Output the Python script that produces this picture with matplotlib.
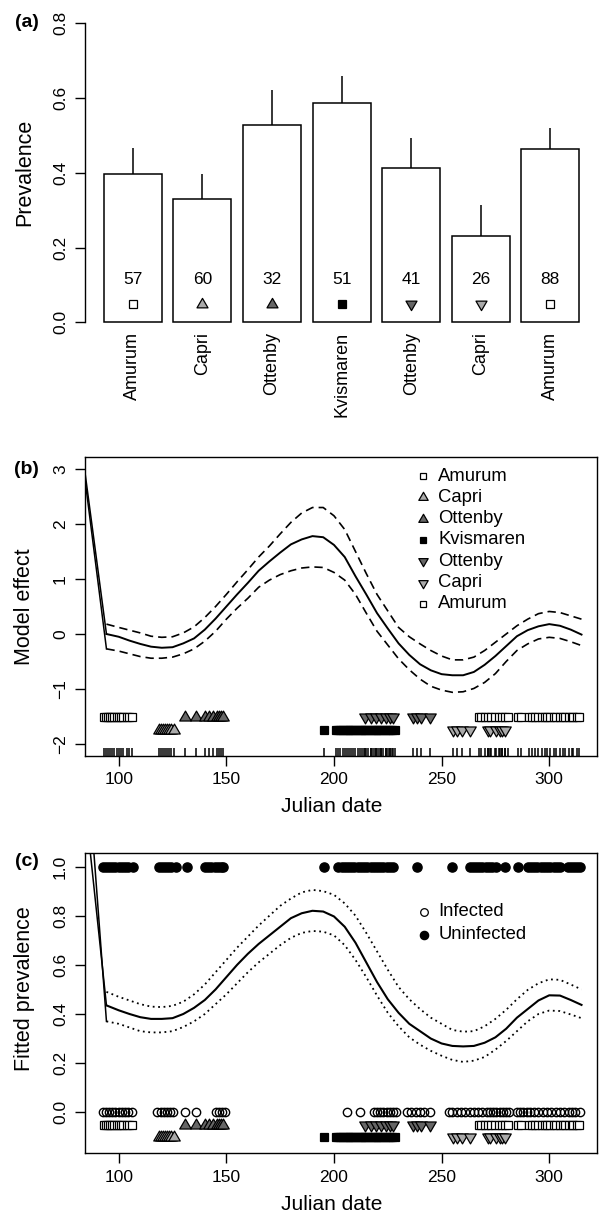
import numpy as np
import matplotlib.pyplot as plt
from matplotlib.path import Path

plt.rcParams['font.family'] = ['Liberation Sans', 'DejaVu Sans']
plt.rcParams['axes.linewidth'] = 1.0

# ---- (a) prevalence per site / season
sites = ['Amurum', 'Capri', 'Ottenby', 'Kvismaren', 'Ottenby', 'Capri', 'Amurum']
prevalence = [0.396, 0.331, 0.529, 0.588, 0.414, 0.230, 0.465]
prev_upper = [0.466, 0.397, 0.622, 0.658, 0.493, 0.313, 0.521]
sample_n = [57, 60, 32, 51, 41, 26, 88]
site_shape = ['square', 'up', 'up', 'square', 'down', 'down', 'square']
site_fill = ['white', '#aaaaaa', '#666666', 'black', '#666666', '#aaaaaa', 'white']

# sampling dates of each site group (julian date)
dates_amurum_spring = [93, 94, 95, 96, 97, 98, 99, 100, 101, 102, 104, 105, 106]
dates_capri_spring = [118.5, 119.5, 120.5, 121.5, 122.5, 123.5, 124.5, 125.5]
dates_ottenby_spring = [131, 136, 140, 142, 144, 145.5, 146.5, 147.5, 148.5]
dates_kvismaren = [195.5, 201, 202, 203, 204, 205, 206, 207, 208, 209, 210, 211,
                   212, 213, 214, 215, 216, 217, 218, 219, 220, 221, 222, 223,
                   224, 225, 226, 227, 228.5]
dates_ottenby_autumn = [214.5, 217, 219.5, 222, 224, 226, 227.5, 236.5, 238.5,
                        240.5, 244.5]
dates_capri_autumn = [255.5, 257, 259.5, 263, 271.5, 272.5, 275.5, 277, 278, 279.5]
dates_amurum_autumn = [267.5, 268.5, 270, 271.5, 273, 275, 276.5, 278, 279.5, 281,
                       285.5, 287, 290.5, 292, 293.5, 295, 296.5, 298, 299, 300.5,
                       302, 303, 305, 306.5, 307.5, 309, 310.5, 311, 313, 314]
site_dates = [dates_amurum_spring, dates_capri_spring, dates_ottenby_spring,
              dates_kvismaren, dates_ottenby_autumn, dates_capri_autumn,
              dates_amurum_autumn]
row_b = [-1.5, -1.75, -1.5, -1.75, -1.5, -1.75, -1.5]
row_c = [-0.05, -0.1, -0.05, -0.1, -0.05, -0.1, -0.05]

# infection status by date, panel (c)
infected_dates = [92.5, 94, 95.5, 97, 98.5, 100, 101.5, 103, 104.5, 106,
                  118, 119.5, 121, 122.5, 124, 125, 131, 136, 145, 146.5, 148, 149.5,
                  206, 212, 218.5, 220, 221.5, 223, 224.5, 226, 227.5, 229,
                  234, 236, 238, 240, 242, 244.5,
                  253.5, 255, 257, 259, 261, 263, 265, 267, 269, 271, 272.5, 274,
                  275.5, 277, 278.5, 280, 281.5, 285, 286.5, 288, 289.5, 291, 293,
                  295, 297, 299, 301, 303, 305, 307, 309, 310.5, 312, 314.5]
uninfected_dates = [92.5, 94, 95.5, 97, 98.5, 100, 101.5, 103, 104.5, 106.5,
                    118.5, 120, 121.5, 123, 124.5, 126.5, 131.5, 140, 141.5, 143,
                    144.5, 146, 147.5, 148.5, 195.5, 202, 203.5, 205, 206.5, 208,
                    209.5, 211, 212.5, 214, 215.5, 217, 218.5, 220, 221.5, 223,
                    224.5, 226, 227.5, 238.5, 255, 263, 264.5, 266, 267.5, 269,
                    270.5, 272, 273.5, 275.5, 279.5, 285.5, 290, 291.5, 293, 294.5,
                    296, 297.5, 299, 300.5, 302, 303.5, 305, 308.5, 310, 311.5,
                    313, 314.5]

# ---- smooth fits, (b) model effect and (c) fitted prevalence
fit_dates = [94.3, 100, 105, 110, 115, 120, 125, 130, 135, 140, 145, 150, 155,
             160, 165, 170, 175, 180, 185, 190, 195, 200, 205, 210, 215, 220,
             225, 230, 235, 240, 245, 250, 255, 260, 265, 270, 275, 280, 285,
             290, 295, 300, 305, 310, 315]
effect_fit = [0.0, -0.05, -0.12, -0.18, -0.23, -0.25, -0.24, -0.17, -0.08, 0.08,
              0.28, 0.5, 0.72, 0.93, 1.15, 1.32, 1.48, 1.63, 1.72, 1.78, 1.76,
              1.62, 1.4, 1.05, 0.72, 0.38, 0.1, -0.17, -0.38, -0.55, -0.66,
              -0.73, -0.75, -0.75, -0.69, -0.56, -0.4, -0.22, -0.04, 0.07, 0.14,
              0.18, 0.15, 0.08, -0.01]
effect_upper = [0.18, 0.12, 0.07, 0.02, -0.04, -0.06, -0.05, 0.02, 0.13, 0.3,
                0.5, 0.72, 0.95, 1.17, 1.4, 1.6, 1.82, 2.03, 2.2, 2.3, 2.3, 2.15,
                1.9, 1.5, 1.1, 0.72, 0.42, 0.12, -0.05, -0.18, -0.3, -0.4, -0.47,
                -0.47, -0.42, -0.3, -0.15, 0.0, 0.15, 0.27, 0.37, 0.41, 0.39,
                0.33, 0.27]
effect_lower = [-0.27, -0.31, -0.36, -0.41, -0.44, -0.44, -0.42, -0.36, -0.27,
                -0.13, 0.05, 0.27, 0.47, 0.65, 0.85, 0.98, 1.08, 1.15, 1.2, 1.22,
                1.21, 1.12, 0.98, 0.72, 0.38, 0.05, -0.2, -0.45, -0.65, -0.82,
                -0.95, -1.02, -1.06, -1.05, -0.99, -0.88, -0.72, -0.5, -0.3,
                -0.18, -0.09, -0.06, -0.08, -0.14, -0.21]
prev_fit = [0.435, 0.415, 0.40, 0.387, 0.38, 0.38, 0.383, 0.40, 0.425, 0.457,
            0.50, 0.55, 0.60, 0.645, 0.685, 0.72, 0.755, 0.79, 0.81, 0.82, 0.817,
            0.797, 0.755, 0.69, 0.61, 0.53, 0.46, 0.405, 0.36, 0.33, 0.30, 0.28,
            0.27, 0.268, 0.27, 0.283, 0.305, 0.34, 0.385, 0.42, 0.455, 0.476,
            0.475, 0.457, 0.437]
prev_upper_ci = [0.49, 0.47, 0.455, 0.44, 0.43, 0.428, 0.433, 0.45, 0.48, 0.52,
                 0.57, 0.62, 0.67, 0.715, 0.76, 0.80, 0.84, 0.87, 0.895, 0.905,
                 0.90, 0.885, 0.85, 0.80, 0.73, 0.655, 0.58, 0.51, 0.46, 0.42,
                 0.385, 0.36, 0.335, 0.328, 0.33, 0.35, 0.38, 0.417, 0.46, 0.498,
                 0.525, 0.541, 0.539, 0.52, 0.50]
prev_lower_ci = [0.37, 0.36, 0.345, 0.33, 0.325, 0.325, 0.33, 0.347, 0.37, 0.40,
                 0.44, 0.48, 0.525, 0.57, 0.61, 0.645, 0.68, 0.71, 0.73, 0.738,
                 0.735, 0.72, 0.68, 0.62, 0.55, 0.475, 0.405, 0.35, 0.305, 0.275,
                 0.25, 0.23, 0.213, 0.205, 0.21, 0.225, 0.255, 0.29, 0.33, 0.37,
                 0.40, 0.414, 0.412, 0.398, 0.383]
# stray first point of the fitted curves (the steep line at the left edge)
spike_date = 83.5
effect_spike = [3.18, 3.07]   # fit, lower
prev_spike = [1.33, 1.64]

# R-like triangles (centroid on the point)
tri_up = Path([(0, 1), (-0.9, -0.55), (0.9, -0.55), (0, 1)], closed=True)
tri_down = Path([(0, -1), (-0.9, 0.55), (0.9, 0.55), (0, -1)], closed=True)
shapes = {'square': 's', 'up': tri_up, 'down': tri_down}


def msize(shape, sq, tri):
    return sq if shape == 'square' else tri


fig = plt.figure(figsize=(5.99, 12.17), dpi=100)
W, H = 599, 1217
ax_a = fig.add_axes([84.7 / W, 1 - 334.3 / H, 513.7 / W, 323 / H])
ax_b = fig.add_axes([84.5 / W, 1 - 756 / H, 512.5 / W, 299.3 / H])
ax_c = fig.add_axes([84.5 / W, 1 - 1153.3 / H, 512.5 / W, 300 / H])

tick_kw = dict(direction='out', length=7.2, width=1, labelsize=12.5, pad=4.6)

# ---------------- (a)
centers = np.arange(len(sites)) * 1.2 + 0.7
ax_a.bar(centers, prevalence, width=1, color='white', edgecolor='black', lw=1.1)
ax_a.vlines(centers, prevalence, prev_upper, color='black', lw=1.1)
for c, n, sh, fc in zip(centers, sample_n, site_shape, site_fill):
    ax_a.text(c, 0.115, str(n), ha='center', va='center', fontsize=12.5)
    ax_a.plot(c, 0.05, marker=shapes[sh], ms=msize(sh, 5.8, 8.8), mfc=fc,
              mec='black', mew=0.9, ls='none')
ax_a.set_xlim(-0.128, 8.728)
ax_a.set_ylim(-0.032, 0.832)
for s in ['top', 'right', 'bottom']:
    ax_a.spines[s].set_visible(False)
ax_a.spines['left'].set_bounds(0, 0.8)
ax_a.set_yticks([0, 0.2, 0.4, 0.6, 0.8], ['0.0', '0.2', '0.4', '0.6', '0.8'])
ax_a.tick_params(axis='y', labelrotation=90, **tick_kw)
ax_a.set_xticks(centers, sites, rotation=90, fontsize=13)
ax_a.tick_params(axis='x', length=0, pad=-1.9)
ax_a.set_ylabel('Prevalence', fontsize=15.5, va='center')
ax_a.yaxis.set_label_coords(-0.1166, 0.5)

# ---------------- (b)
ax_b.plot([spike_date, fit_dates[0]], [effect_spike[0], effect_fit[0]], color='black', lw=1.1)
ax_b.plot([spike_date, fit_dates[0]], [effect_spike[1], effect_lower[0]], color='black', lw=1.1)
ax_b.plot(fit_dates, effect_fit, color='black', lw=1.4)
ax_b.plot(fit_dates, effect_upper, color='black', lw=1.2, ls=(0, (5, 3)))
ax_b.plot(fit_dates, effect_lower, color='black', lw=1.2, ls=(0, (5, 3)))
for d, y, sh, fc in zip(site_dates, row_b, site_shape, site_fill):
    ax_b.plot(d, [y] * len(d), marker=shapes[sh], ms=msize(sh, 6.2, 9.2),
              mfc=fc, mec='black', mew=0.9, ls='none')
all_dates = np.concatenate(site_dates)
ax_b.vlines(all_dates, 0, 0.028, transform=ax_b.get_xaxis_transform(),
            color='black', lw=1.1)
ax_b.set_xlim(84.1, 322.2)
ax_b.set_ylim(-2.218, 3.224)
ax_b.set_xticks([100, 150, 200, 250, 300])
ax_b.set_yticks([-2, -1, 0, 1, 2, 3])
ax_b.tick_params(axis='both', **tick_kw)
ax_b.tick_params(axis='y', labelrotation=90)
ax_b.set_ylabel('Model effect', fontsize=15.5, va='center')
ax_b.yaxis.set_label_coords(-0.1164, 0.5)
ax_b.set_xlabel('Julian date', fontsize=15, va='center')
ax_b.xaxis.set_label_coords(0.483, -0.169)
for i, (lab, sh, fc) in enumerate(zip(sites, site_shape, site_fill)):
    yy = 0.9355 - i * 0.0712
    ax_b.plot(0.661, yy, transform=ax_b.transAxes, marker=shapes[sh],
              ms=msize(sh, 4.2, 7.5), mfc=fc, mec='black', mew=0.9, ls='none')
    ax_b.text(0.690, yy, lab, transform=ax_b.transAxes, fontsize=13.3, va='center')

# ---------------- (c)
ax_c.plot([spike_date, fit_dates[0]], [prev_spike[0], prev_fit[0]], color='black', lw=1.1)
ax_c.plot([spike_date, fit_dates[0]], [prev_spike[1], prev_lower_ci[0]], color='black', lw=1.1)
ax_c.plot(fit_dates, prev_fit, color='black', lw=1.5)
ax_c.plot(fit_dates, prev_upper_ci, color='black', lw=1.3, ls=(0, (1, 2)))
ax_c.plot(fit_dates, prev_lower_ci, color='black', lw=1.3, ls=(0, (1, 2)))
ax_c.plot(uninfected_dates, [1.0] * len(uninfected_dates), marker='o', ms=6.6,
          mfc='black', mec='black', ls='none')
ax_c.plot(infected_dates, [0.0] * len(infected_dates), marker='o', ms=6.0,
          mfc='none', mec='black', mew=1.0, ls='none')
for d, y, sh, fc in zip(site_dates, row_c, site_shape, site_fill):
    ax_c.plot(d, [y] * len(d), marker=shapes[sh], ms=msize(sh, 6.2, 9.2),
              mfc=fc, mec='black', mew=0.9, ls='none')
ax_c.set_xlim(84.1, 322.2)
ax_c.set_ylim(-0.167, 1.054)
ax_c.set_xticks([100, 150, 200, 250, 300])
ax_c.set_yticks([0, 0.2, 0.4, 0.6, 0.8, 1.0], ['0.0', '0.2', '0.4', '0.6', '0.8', '1.0'])
ax_c.tick_params(axis='both', **tick_kw)
ax_c.tick_params(axis='y', labelrotation=90)
ax_c.set_ylabel('Fitted prevalence', fontsize=15.5, va='center')
ax_c.yaxis.set_label_coords(-0.1164, 0.55)
ax_c.set_xlabel('Julian date', fontsize=15, va='center')
ax_c.xaxis.set_label_coords(0.483, -0.172)
for i, (lab, filled) in enumerate([('Infected', False), ('Uninfected', True)]):
    yy = 0.805 - i * 0.077
    ax_c.plot(0.663, yy, transform=ax_c.transAxes, marker='o',
              ms=6 if filled else 5.5, mfc='black' if filled else 'none',
              mec='black', mew=0.9, ls='none')
    ax_c.text(0.690, yy, lab, transform=ax_c.transAxes, fontsize=13.3, va='center')

for ax in (ax_a, ax_b, ax_c):
    for lab in ax.get_yticklabels():
        lab.set_va('center')

fig.text(26.7 / W, 1 - 22.7 / H, '(a)', fontsize=14, fontweight='bold', ha='center', va='center')
fig.text(26.7 / W, 1 - 469 / H, '(b)', fontsize=14, fontweight='bold', ha='center', va='center')
fig.text(26.7 / W, 1 - 861.7 / H, '(c)', fontsize=14, fontweight='bold', ha='center', va='center')

fig.savefig('out.png', dpi=100)
